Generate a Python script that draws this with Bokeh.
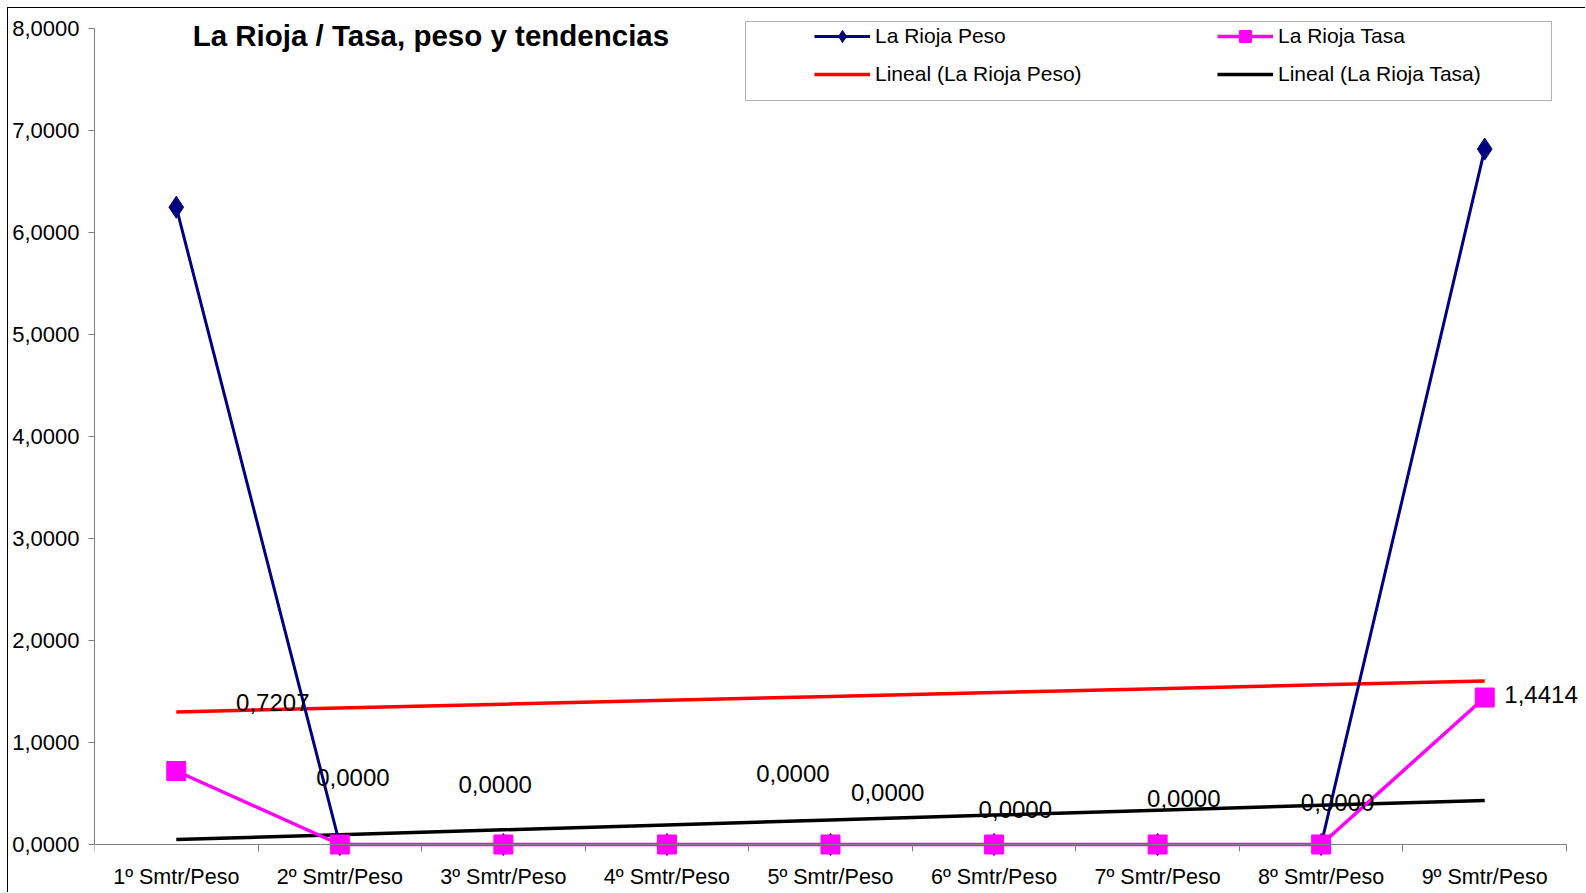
import numpy as np
from bokeh.plotting import figure
from bokeh.models import (Range1d, FixedTicker, Legend, LegendItem, Label,
                          BoxAnnotation)
from bokeh.embed import file_html
from bokeh.resources import INLINE

# ---------------- data ----------------
categories = ["1º Smtr/Peso", "2º Smtr/Peso", "3º Smtr/Peso", "4º Smtr/Peso",
              "5º Smtr/Peso", "6º Smtr/Peso", "7º Smtr/Peso", "8º Smtr/Peso",
              "9º Smtr/Peso"]
peso = [6.25, 0.0, 0.0, 0.0, 0.0, 0.0, 0.0, 0.0, 6.82]
tasa = [0.7207, 0.0, 0.0, 0.0, 0.0, 0.0, 0.0, 0.0, 1.4414]
y_ticks = [0, 1, 2, 3, 4, 5, 6, 7, 8]
title_text = "La Rioja  / Tasa, peso y tendencias"

# label placement (layout only; labels were moved by hand in the original)
label_dx = [0.59, 0.08, -0.05, 0.77, 0.35, 0.13, 0.16, 0.10, 0.12]
label_y = [1.39, 0.66, 0.585, 0.70, 0.51, 0.34, 0.45, 0.41, 1.47]
label_align = ["center"] * 8 + ["left"]

FONT = "Liberation Sans"
x = np.arange(1, len(categories) + 1)

# ---------------- geometry (page pixels) ----------------
CANVAS_X, CANVAS_Y = 8, 8
W, H = 1578, 885
AX_L, AX_R = 94, 1566          # x = 0.5 .. 9.5
Y0_PX, Y8_PX = 844, 28.3       # y = 0 .. 8
FR_L, FR_R, FR_T, FR_B = 94, 1582, 18, CANVAS_Y + H
xs = (AX_R - AX_L) / 9.0
ys = (Y0_PX - Y8_PX) / 8.0
x_range = Range1d(0.5 - (AX_L - FR_L) / xs, 9.5 + (FR_R - AX_R) / xs)
y_range = Range1d(-(FR_B - Y0_PX) / ys, 8 + (Y8_PX - FR_T) / ys)

p = figure(width=W, height=H, output_backend="svg", toolbar_location=None,
           x_range=x_range, y_range=y_range,
           min_border_left=FR_L - CANVAS_X, min_border_right=CANVAS_X + W - FR_R,
           min_border_top=FR_T - CANVAS_Y, min_border_bottom=CANVAS_Y + H - FR_B,
           styles={"margin-left": "7px", "margin-top": "7px",
                   "border-left": "1px solid black",
                   "border-top": "1px solid black"})
p.outline_line_color = None
p.grid.visible = False
p.background_fill_color = "white"
p.border_fill_color = "white"

# axes
xa = p.xaxis[0]
xa.fixed_location = 0
xa.bounds = (0.5, 9.5)
xa.ticker = FixedTicker(ticks=list(x), minor_ticks=[i + 0.5 for i in range(0, 10)])
xa.major_label_overrides = {int(i): c for i, c in zip(x, categories)}
xa.major_tick_line_color = None
xa.major_tick_out = 0
xa.major_tick_in = 0
xa.minor_tick_in = 0
xa.minor_tick_out = 7
xa.minor_tick_line_color = "#808080"
xa.axis_line_color = "#808080"
xa.major_label_standoff = 13
xa.major_label_text_font = FONT
xa.major_label_text_font_size = "21.5px"
xa.major_label_text_color = "black"

ya = p.yaxis[0]
ya.bounds = (0, 8)
ya.ticker = FixedTicker(ticks=y_ticks)
ya.major_label_overrides = {t: f"{t},0000" for t in y_ticks}
ya.major_tick_in = 0
ya.major_tick_out = 6
ya.minor_tick_line_color = None
ya.major_tick_line_color = "#808080"
ya.axis_line_color = "#808080"
ya.major_label_standoff = 9
ya.major_label_text_font = FONT
ya.major_label_text_font_size = "22px"
ya.major_label_text_color = "black"

# trend lines (least-squares fits of the series)
cp = np.polyfit(x, peso, 1)
ct = np.polyfit(x, tasa, 1)
r_tp = p.line(x, np.polyval(cp, x), line_color="#FF0000", line_width=3.5)
r_tt = p.line(x, np.polyval(ct, x), line_color="#000000", line_width=3.5)

# series
r_pl = p.line(x, peso, line_color="#000080", line_width=3)
r_ps = p.scatter(x, peso, marker="diamond", size=22, fill_color="#000080",
                 line_color="#000080")
r_tl = p.line(x, tasa, line_color="#FF00FF", line_width=3.5)
r_ts = p.scatter(x, tasa, marker="square", size=19, fill_color="#FF00FF",
                 line_color="#FF00FF")

# data labels
for i, v in enumerate(tasa):
    p.add_layout(Label(x=x[i] + label_dx[i], y=label_y[i],
                       text=f"{v:.4f}".replace(".", ","),
                       text_font=FONT, text_font_size="24px",
                       text_align=label_align[i], text_baseline="middle",
                       text_color="black"))

# title
p.add_layout(Label(x=1.1, y=7.935, text=title_text, text_font=FONT,
                   text_font_size="29.5px", text_font_style="bold",
                   text_baseline="middle", text_align="left",
                   text_color="black"))

# legend box
p.add_layout(BoxAnnotation(left=744 - CANVAS_X, right=1550 - CANVAS_X,
                           top=20 - CANVAS_Y, bottom=99 - CANVAS_Y,
                           left_units="canvas", right_units="canvas",
                           top_units="canvas", bottom_units="canvas",
                           fill_color=None, line_color="black", line_width=1))

LEG_BOTTOM = 89   # page y of the legend's lower edge
def make_legend(items, left):
    lg = Legend(items=items, location=(left - FR_L, FR_B - LEG_BOTTOM),
                border_line_color=None,
                background_fill_alpha=0, padding=0, margin=0,
                glyph_width=56, glyph_height=30, label_height=30,
                label_standoff=5, spacing=8,
                label_text_font=FONT, label_text_font_size="21px",
                label_text_color="black")
    p.add_layout(lg, "center")

make_legend([LegendItem(label="La Rioja Peso", renderers=[r_pl, r_ps]),
             LegendItem(label="Lineal (La Rioja Peso)", renderers=[r_tp])], 814)
make_legend([LegendItem(label="La Rioja Tasa", renderers=[r_tl, r_ts]),
             LegendItem(label="Lineal (La Rioja Tasa)", renderers=[r_tt])], 1217)

open("out.html", "w").write(file_html(p, INLINE))
